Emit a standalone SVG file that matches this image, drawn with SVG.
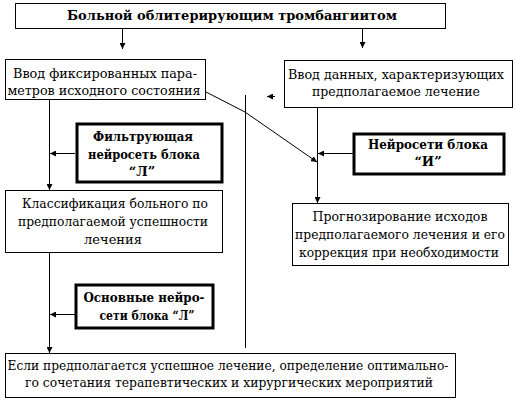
<svg xmlns="http://www.w3.org/2000/svg" width="520" height="400" viewBox="0 0 520 400">
<defs>
<marker id="ah" viewBox="0 0 6 6" refX="6" refY="3" markerWidth="6" markerHeight="6" markerUnits="userSpaceOnUse" orient="auto">
<path d="M0,0 L6,3 L0,6 z" fill="#000"/>
</marker>
<style>
.box{fill:#fff;stroke:#000;stroke-width:1}
.tbox{fill:#fff;stroke:#000;stroke-width:3}
.t{font-family:'DejaVu Serif','Liberation Serif',serif;font-size:13px;fill:#000;text-anchor:middle}
.b{font-weight:bold}
.c{fill:none;stroke:#000;stroke-width:1}
.a{marker-end:url(#ah)}
</style>
</defs>
<rect width="520" height="400" fill="#fff"/>
<g id="connectors">
<line class="c a" x1="122.5" y1="28" x2="122.5" y2="49"/>
<line class="c a" x1="362.5" y1="28" x2="362.5" y2="48"/>
<line class="c a" x1="49.5" y1="99" x2="49.5" y2="190"/>
<line class="c a" x1="75" y1="153.5" x2="50" y2="153.5"/>
<line class="c a" x1="49.5" y1="252" x2="49.5" y2="353"/>
<line class="c a" x1="75" y1="314.5" x2="50" y2="314.5"/>
<line class="c a" x1="317.5" y1="107" x2="317.5" y2="203"/>
<line class="c a" x1="353" y1="153.5" x2="318" y2="153.5"/>
<path class="c a" d="M206,92 L245,112 L317,162" stroke-width="0.8"/>
<line class="c" x1="245.5" y1="95" x2="245.5" y2="348"/>
<line class="c a" x1="275" y1="96.5" x2="267" y2="96.5"/>
</g>
<g id="title">
<rect class="box" x="15.5" y="3.5" width="430" height="25"/>
<text class="t b" x="232" y="20" font-size="14" textLength="330" lengthAdjust="spacingAndGlyphs">Больной облитерирующим тромбангиитом</text>
</g>
<g id="input-fixed">
<rect class="box" x="5.5" y="59.5" width="200" height="40"/>
<text class="t" x="105" y="78" textLength="184" lengthAdjust="spacingAndGlyphs">Ввод фиксированных пара-</text>
<text class="t" x="104" y="95" textLength="193" lengthAdjust="spacingAndGlyphs">метров исходного состояния</text>
</g>
<g id="input-treatment">
<rect class="box" x="284.5" y="60.5" width="228" height="47"/>
<text class="t" x="396" y="79" textLength="216" lengthAdjust="spacingAndGlyphs">Ввод данных, характеризующих</text>
<text class="t" x="396" y="96" textLength="168" lengthAdjust="spacingAndGlyphs">предполагаемое лечение</text>
</g>
<g id="filter-net">
<rect class="tbox" x="77" y="124" width="145" height="58"/>
<text class="t b" x="143" y="141" textLength="100" lengthAdjust="spacingAndGlyphs">Фильтрующая</text>
<text class="t b" x="144" y="159" textLength="112" lengthAdjust="spacingAndGlyphs">нейросеть блока</text>
<text class="t b" x="142" y="176">“Л”</text>
</g>
<g id="net-i">
<rect class="tbox" x="354" y="134" width="150" height="40"/>
<text class="t b" x="428" y="149" textLength="120" lengthAdjust="spacingAndGlyphs">Нейросети блока</text>
<text class="t b" x="428" y="166">“И”</text>
</g>
<g id="classify">
<rect class="box" x="5.5" y="190.5" width="217" height="62"/>
<text class="t" x="115" y="208" textLength="186" lengthAdjust="spacingAndGlyphs">Классификация больного по</text>
<text class="t" x="113" y="226" textLength="190" lengthAdjust="spacingAndGlyphs">предполагаемой успешности</text>
<text class="t" x="113" y="244">лечения</text>
</g>
<g id="forecast">
<rect class="box" x="292.5" y="203.5" width="216" height="62"/>
<text class="t" x="400" y="221" textLength="175" lengthAdjust="spacingAndGlyphs">Прогнозирование исходов</text>
<text class="t" x="400" y="239" font-size="12.5" textLength="210" lengthAdjust="spacingAndGlyphs">предполагаемого лечения и его</text>
<text class="t" x="399" y="257" textLength="200" lengthAdjust="spacingAndGlyphs">коррекция при необходимости</text>
</g>
<g id="main-nets">
<rect class="tbox" x="76" y="285" width="137" height="43"/>
<text class="t b" x="144" y="302" textLength="121" lengthAdjust="spacingAndGlyphs">Основные нейро-</text>
<text class="t b" x="147" y="320" textLength="95" lengthAdjust="spacingAndGlyphs">сети блока “Л”</text>
</g>
<g id="result">
<rect class="box" x="5.5" y="353.5" width="450" height="44"/>
<text class="t" x="228" y="370" textLength="441" lengthAdjust="spacingAndGlyphs">Если предполагается успешное лечение, определение оптимально-</text>
<text class="t" x="229" y="387" textLength="408" lengthAdjust="spacingAndGlyphs">го сочетания терапевтических и хирургических мероприятий</text>
</g>
</svg>
